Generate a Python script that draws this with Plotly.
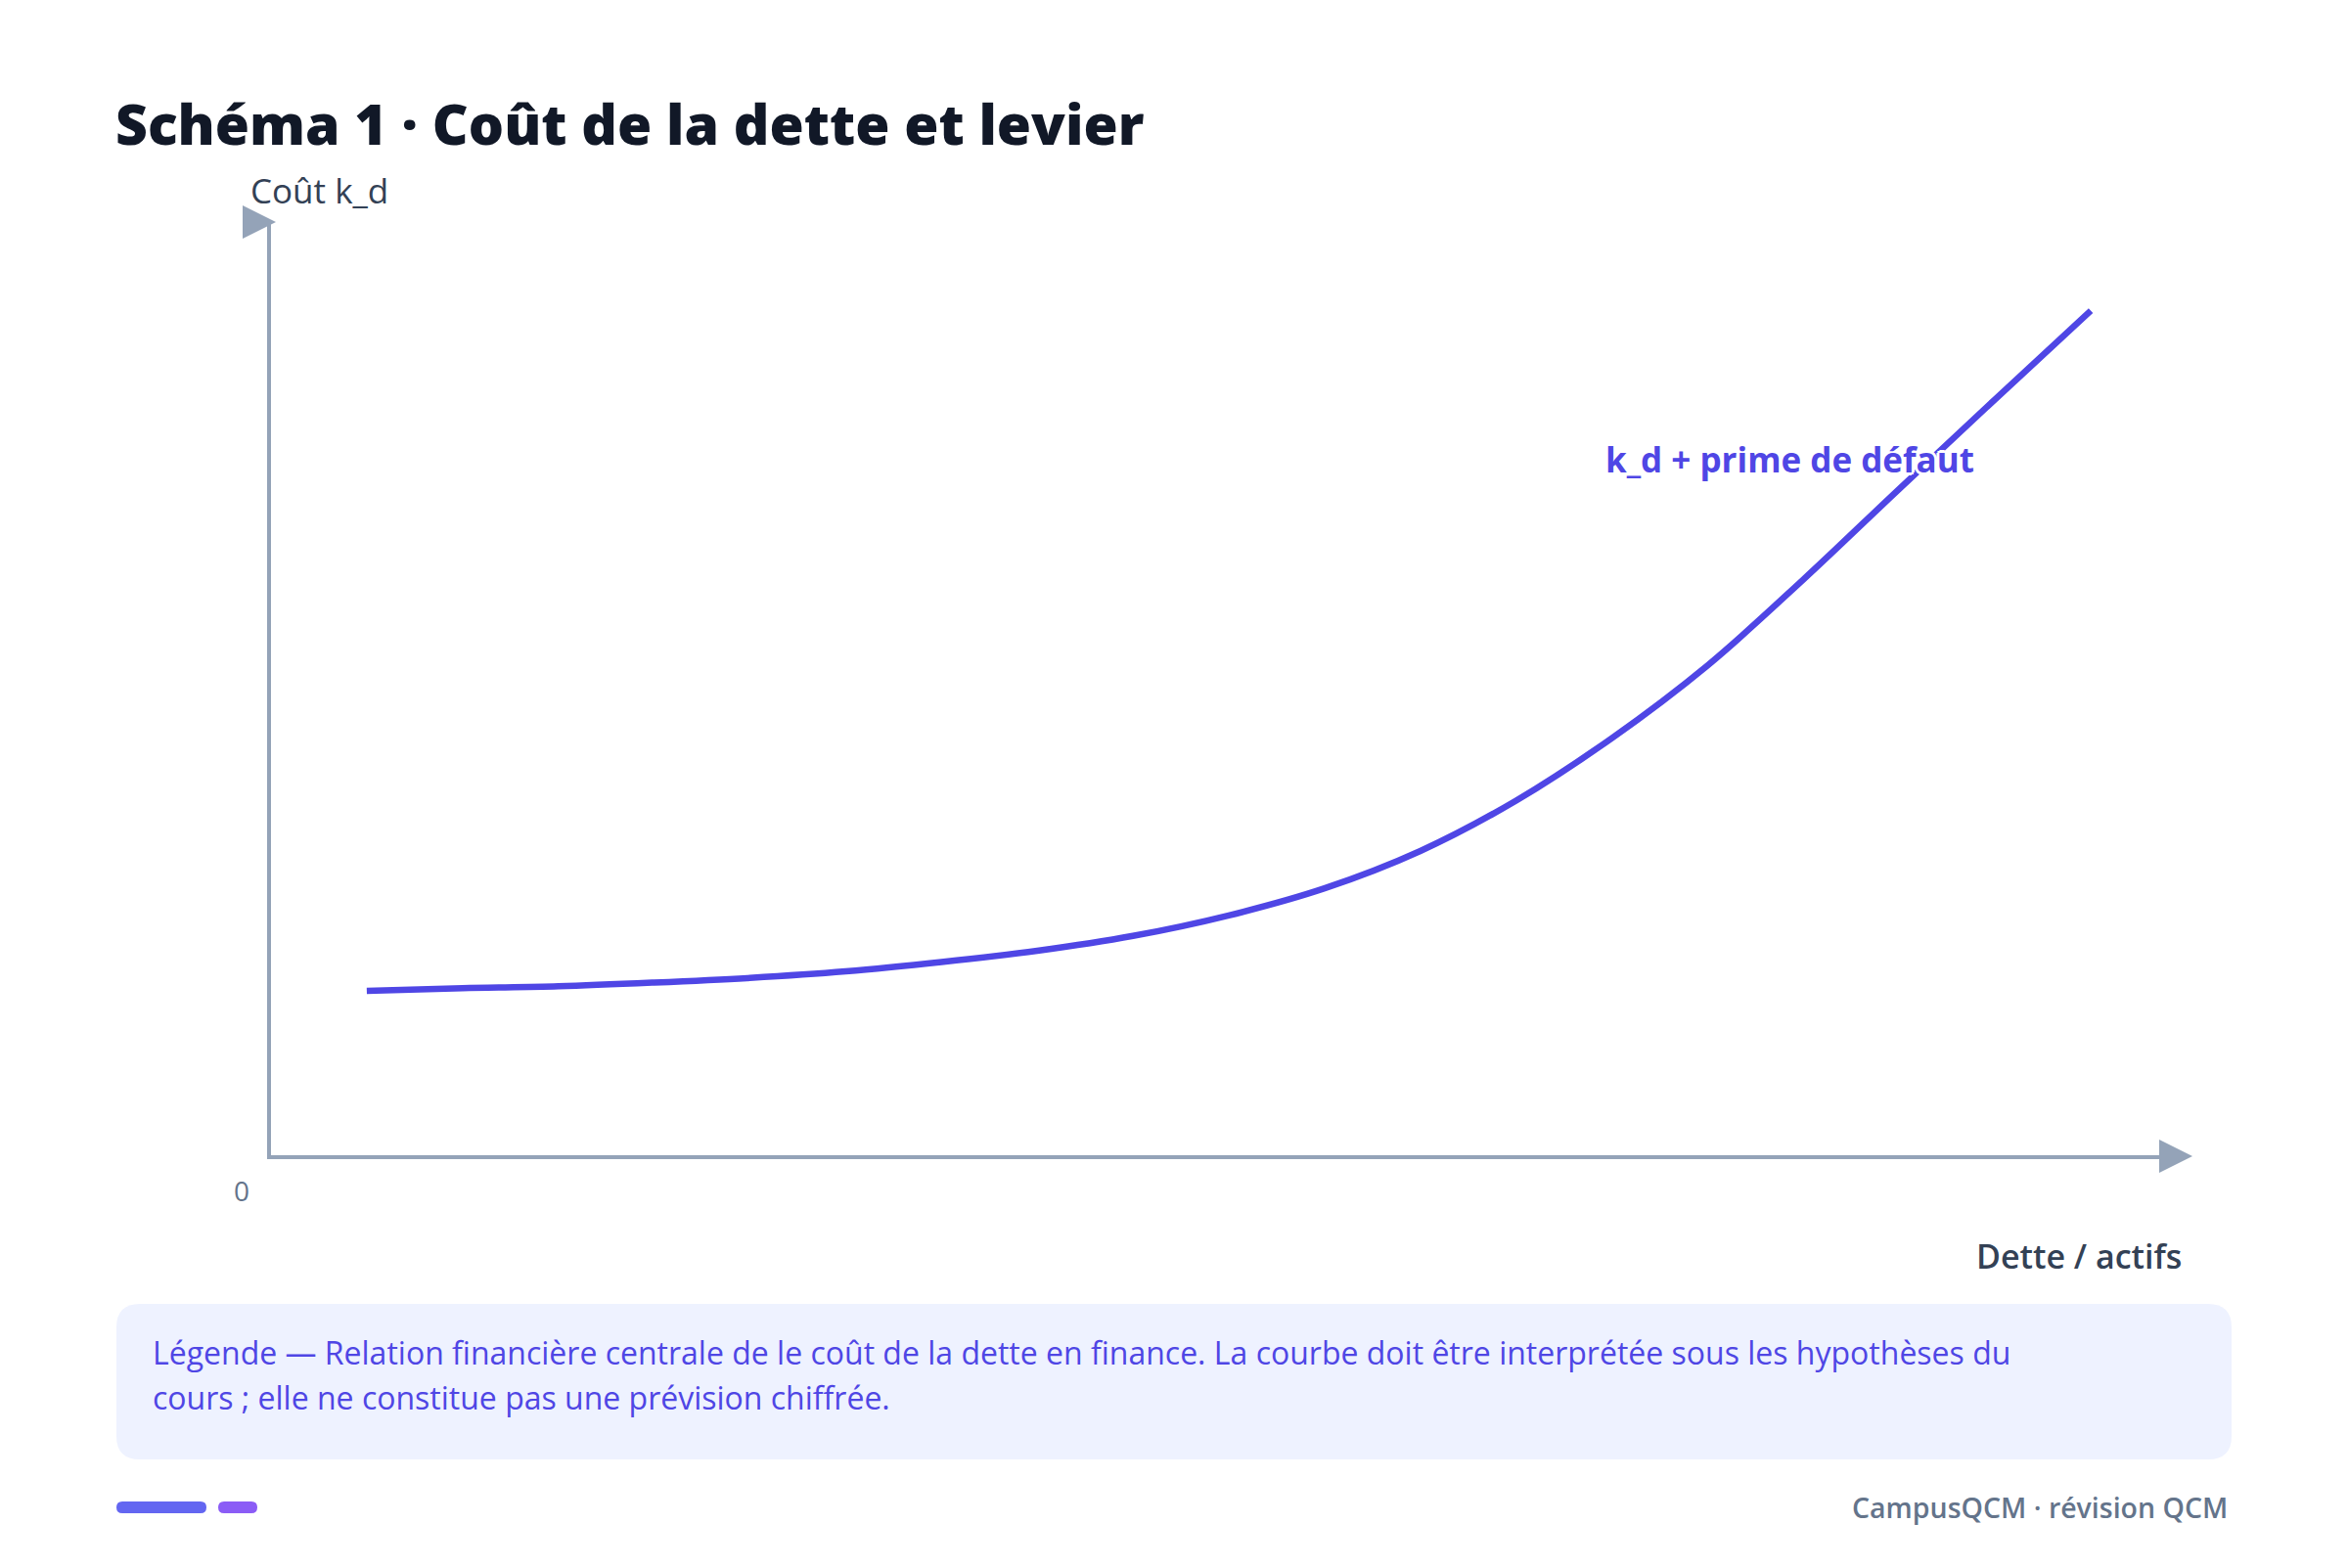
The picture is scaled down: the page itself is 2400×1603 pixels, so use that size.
import plotly.graph_objects as go

# The page body adds an 8px margin, so the figure is 8px smaller and every
# reference-pixel position is shifted back by 8px.
OFF = 8
W, H = 2400 - OFF, 1603 - OFF

# ---- data ----
dette_actifs = [0.05, 0.10, 0.15, 0.20, 0.25, 0.30, 0.35, 0.40, 0.45, 0.50,
                0.55, 0.60, 0.65, 0.70, 0.75, 0.80, 0.85, 0.90, 0.95]
cout_kd = [0.176, 0.179, 0.181, 0.185, 0.190, 0.197, 0.207, 0.219, 0.235, 0.257,
           0.286, 0.326, 0.380, 0.447, 0.525, 0.617, 0.714, 0.810, 0.905]

title_text = "Schéma 1 · Coût de la dette et levier"
y_label = "Coût k_d"
x_label = "Dette / actifs"
origin_label = "0"
curve_label = "k_d + prime de défaut"
legend_lines = [
    "Légende — Relation financière centrale de le coût de la dette en finance. La courbe doit être interprétée sous les hypothèses du",
    "cours ; elle ne constitue pas une prévision chiffrée.",
]
footer_text = "CampusQCM · révision QCM"

FONT = "Open Sans, Noto Sans, sans-serif"
AXIS_COLOR = "#94a3b8"
LINE_COLOR = "#4f46e5"

# plot-area corners in reference pixels
AX_LEFT, AX_RIGHT, AX_TOP, AX_BOTTOM = 277, 2235, 227, 1181


def PX(x):
    return (x - OFF) / W


def PY(y):
    return 1 - (y - OFF) / H


def rounded_path(x0, y0, x1, y1, r):
    return (f"M{PX(x0 + r)},{PY(y0)} L{PX(x1 - r)},{PY(y0)} "
            f"Q{PX(x1)},{PY(y0)} {PX(x1)},{PY(y0 + r)} "
            f"L{PX(x1)},{PY(y1 - r)} Q{PX(x1)},{PY(y1)} {PX(x1 - r)},{PY(y1)} "
            f"L{PX(x0 + r)},{PY(y1)} Q{PX(x0)},{PY(y1)} {PX(x0)},{PY(y1 - r)} "
            f"L{PX(x0)},{PY(y0 + r)} Q{PX(x0)},{PY(y0)} {PX(x0 + r)},{PY(y0)} Z")


fig = go.Figure()
fig.add_trace(go.Scatter(
    x=dette_actifs, y=cout_kd, mode="lines",
    line=dict(color=LINE_COLOR, width=6.5, shape="spline", smoothing=1.0),
    hoverinfo="skip", showlegend=False,
))

halo = ", ".join(f"{dx}px {dy}px 0 #ffffff" for dx, dy in
                 [(3, 0), (-3, 0), (0, 3), (0, -3), (2, 2), (-2, -2), (2, -2), (-2, 2)])

ARROW = "M-28,-17 L6,0 L-28,17 Z"
shapes = [
    # arrow heads (right-pointing at both axis ends, as in the reference)
    dict(type="path", xref="paper", yref="paper", xsizemode="pixel", ysizemode="pixel",
         xanchor=PX(AX_RIGHT), yanchor=PY(AX_BOTTOM + 1), path=ARROW,
         fillcolor=AXIS_COLOR, line=dict(width=0)),
    dict(type="path", xref="paper", yref="paper", xsizemode="pixel", ysizemode="pixel",
         xanchor=PX(AX_LEFT - 1), yanchor=PY(AX_TOP), path=ARROW,
         fillcolor=AXIS_COLOR, line=dict(width=0)),
    # legend box
    dict(type="path", xref="paper", yref="paper", path=rounded_path(119, 1333, 2281, 1492, 24),
         fillcolor="#eef2ff", line=dict(width=0), layer="below"),
    # footer pills
    dict(type="path", xref="paper", yref="paper", path=rounded_path(119, 1535, 211, 1547, 6),
         fillcolor="#6366f1", line=dict(width=0)),
    dict(type="path", xref="paper", yref="paper", path=rounded_path(223, 1535, 263, 1547, 6),
         fillcolor="#8b5cf6", line=dict(width=0)),
]

annotations = [
    dict(text=title_text, x=PX(116), y=PY(126), xanchor="left", yanchor="middle",
         font=dict(family=FONT, size=57, color="#111827", weight=800)),
    dict(text=y_label, x=PX(254), y=PY(194), xanchor="left", yanchor="middle",
         font=dict(family=FONT, size=35, color="#334155", weight=500)),
    dict(text=origin_label, x=PX(247), y=PY(1217), xanchor="center", yanchor="middle",
         font=dict(family=FONT, size=28, color="#64748b")),
    dict(text=x_label, x=PX(2232), y=PY(1284), xanchor="right", yanchor="middle",
         font=dict(family=FONT, size=34, color="#334155", weight=600)),
    dict(text=curve_label, x=0.793, y=0.746, xref="x", yref="y", xanchor="center", yanchor="middle",
         font=dict(family=FONT, size=35, color=LINE_COLOR, weight=700, shadow=halo)),
    dict(text=legend_lines[0], x=PX(154), y=PY(1382), xanchor="left", yanchor="middle",
         font=dict(family=FONT, size=32, color=LINE_COLOR)),
    dict(text=legend_lines[1], x=PX(154), y=PY(1428), xanchor="left", yanchor="middle",
         font=dict(family=FONT, size=32, color=LINE_COLOR)),
    dict(text=footer_text, x=PX(2279), y=PY(1541), xanchor="right", yanchor="middle",
         font=dict(family=FONT, size=28.5, color="#64748b", weight=600)),
]
for a in annotations:
    a.setdefault("xref", "paper")
    a.setdefault("yref", "paper")
    a["showarrow"] = False

fig.update_layout(
    width=W, height=H, margin=dict(l=0, r=0, t=0, b=0),
    paper_bgcolor="white", plot_bgcolor="white",
    xaxis=dict(domain=[PX(AX_LEFT), PX(AX_RIGHT)], range=[0, 1], showline=True, linecolor=AXIS_COLOR,
               linewidth=4, showgrid=False, zeroline=False, showticklabels=False, ticks="",
               fixedrange=True),
    yaxis=dict(domain=[PY(AX_BOTTOM), PY(AX_TOP)], range=[0, 1], showline=True, linecolor=AXIS_COLOR,
               linewidth=4, showgrid=False, zeroline=False, showticklabels=False, ticks="",
               fixedrange=True),
    shapes=shapes, annotations=annotations, showlegend=False,
)

fig.write_html("out.html")
